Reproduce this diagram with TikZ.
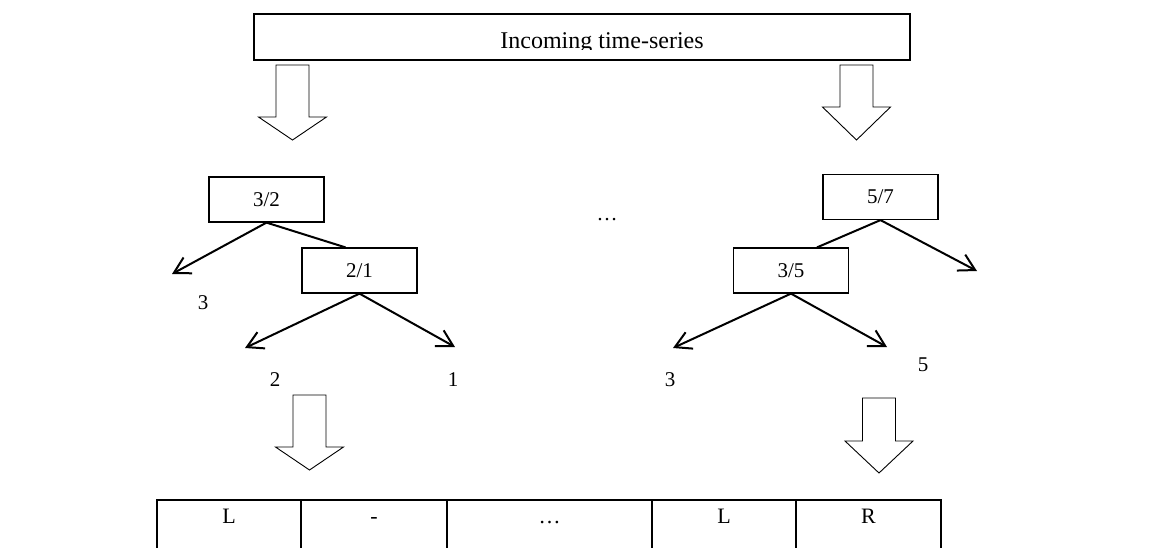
\documentclass[tikz,border=0pt]{standalone}
\usepackage{fontspec}
\setmainfont{Liberation Serif}
\usetikzlibrary{arrows.meta}
\tikzset{
  valbox/.style={draw, line width=0.6pt, minimum width=57.5pt, minimum height=22.5pt, inner sep=0pt, font=\fontsize{10.5}{12}\selectfont},
  branch/.style={line width=1pt},
  split/.style={branch, -{Straight Barb[length=8pt,width=9pt,line width=1pt]}},
  leaf/.style={font=\fontsize{10.5}{12}\selectfont},
  cell/.style={draw, line width=1pt, anchor=north west, inner sep=0pt, minimum height=30pt, text height=11.5pt, text depth=18.5pt, font=\fontsize{11}{13}\selectfont},
  hollow/.style={draw, line width=0.45pt, fill=white}
}
\begin{document}
\begin{tikzpicture}[x=0.5pt,y=-0.5pt]
\useasboundingbox (0,0) rectangle (1169,547);
\clip (0,0) rectangle (1169,547);
% incoming series
\node[draw, line width=0.6pt, minimum width=328pt, minimum height=23pt, inner sep=0pt] (in) at (582,37) {};
\begin{scope}
\clip (254,14) rectangle (910,49);
\node[anchor=base, inner sep=0pt, font=\fontsize{12}{14}\selectfont] (intext) at (602,48) {Incoming time-series};
\end{scope}
% hollow block arrows
\foreach \cx/\ys/\yh/\yt in {292.5/65/117/140, 856.5/65/107/140, 309.5/395/447/470, 879/398/441/473}
  \draw[hollow] (\cx-16.5,\ys) -- (\cx+16.5,\ys) -- (\cx+16.5,\yh) -- (\cx+34,\yh) -- (\cx,\yt) -- (\cx-34,\yh) -- (\cx-16.5,\yh) -- cycle;
% left tree
\node[valbox] (n32) at (266.5,199.5) {3/2};
\node[valbox] (n21) at (359.5,270.5) {2/1};
\coordinate (e3) at (172,274);
\coordinate (e2) at (245,348);
\coordinate (e1) at (455,347);
\draw[split] (n32.south) -- (e3);
\draw[branch] (n32.south) -- ([xshift=-7pt]n21.north);
\draw[split] (n21.south) -- (e2);
\draw[split] (n21.south) -- (e1);
\node[leaf] (v3) at (203,303) {3};
\node[leaf] (v2) at (275,380) {2};
\node[leaf] (v1) at (453,380) {1};
% gap
\node[leaf] (gap) at (607,220) {\dots};
% right tree
\node[valbox] (n57) at (880.5,197) {5/7};
\node[valbox] (n35) at (791,270.5) {3/5};
\coordinate (e7) at (977,271);
\coordinate (e3b) at (673,348);
\coordinate (e5) at (887,347);
\draw[branch] (n57.south) -- ([xshift=13pt]n35.north);
\draw[split] (n57.south) -- (e7);
\draw[split] (n35.south) -- (e3b);
\draw[split] (n35.south) -- (e5);
\node[leaf] (w3) at (670,380) {3};
\node[leaf] (w5) at (923,365) {5};
% result row
\node[cell, minimum width=72pt] (c1) at (156,499) {L};
\node[cell, minimum width=73pt] (c2) at (300,499) {-};
\node[cell, minimum width=102.5pt] (c3) at (446,499) {\dots};
\node[cell, minimum width=72pt] (c4) at (651,499) {L};
\node[cell, minimum width=72.5pt] (c5) at (795,499) {R};
\end{tikzpicture}
\end{document}
